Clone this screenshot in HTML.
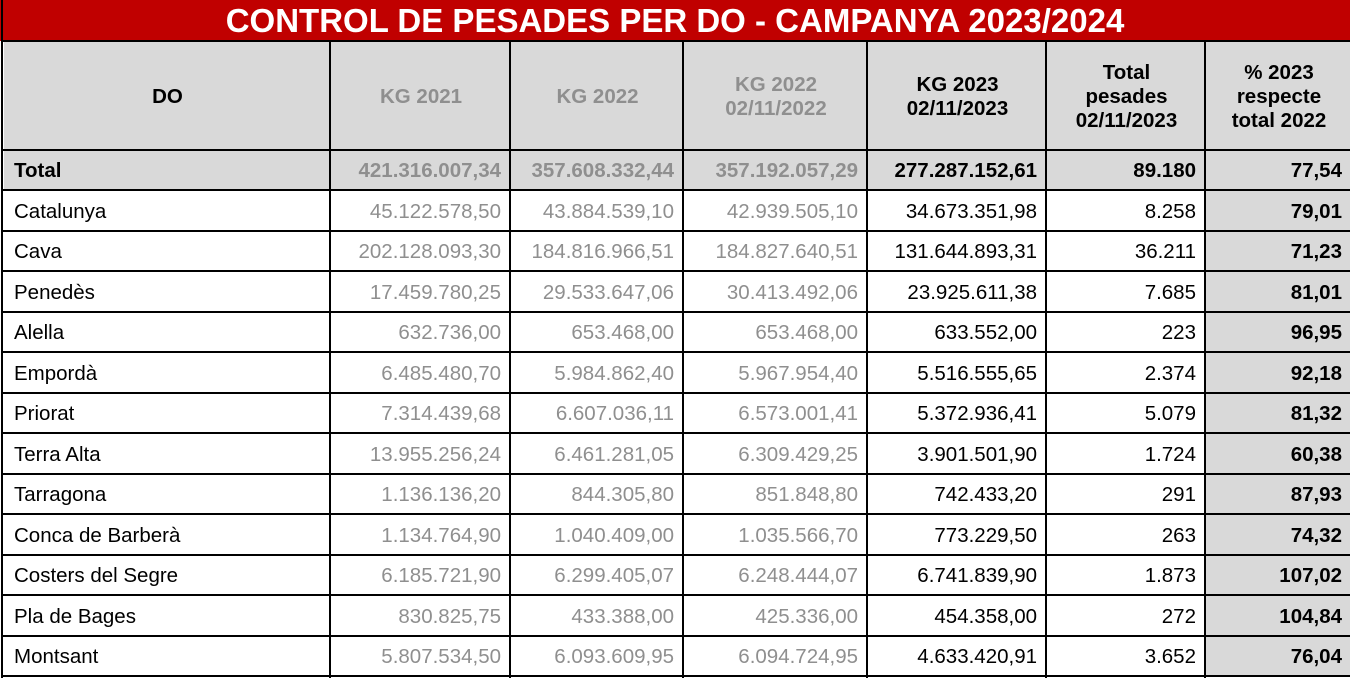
<!DOCTYPE html>
<html><head><meta charset="utf-8"><style>
body{margin:0;width:1350px;height:678px;overflow:hidden;background:#fff;font-family:"Liberation Sans",Arial,sans-serif;position:relative}
.t{position:absolute;left:0;top:0;width:1350px;height:41px;background:#c00000;color:#fff;font-weight:bold;font-size:33px;text-align:center;line-height:42px}
.c{position:absolute;box-sizing:border-box;font-size:20.5px;display:flex;align-items:center;padding:0 10px;white-space:nowrap}
.h{background:#d9d9d9;font-weight:bold;justify-content:center;text-align:center;line-height:24px}
.g{color:#8f8f8f}.r{justify-content:flex-end}.b{font-weight:bold}.gy{background:#d9d9d9}
.vl{position:absolute;width:2px;background:#000;top:0;height:678px}
.hl{position:absolute;height:2px;background:#000;left:3px;width:1347px}
</style></head><body>
<div class="t">CONTROL DE PESADES PER DO - CAMPANYA 2023/2024</div>
<div id="g"></div>
<script>
const xs=[4,331,511,684,868,1047,1206,1352];
const ys=[42,151,191];for(let i=1;i<=12;i++)ys.push(Math.round(191+i*40.5));
const hdr=['DO','KG 2021','KG 2022','KG 2022<br>02/11/2022','KG 2023<br>02/11/2023','Total<br>pesades<br>02/11/2023','% 2023<br>respecte<br>total 2022'];
const rows=[
['Total','421.316.007,34','357.608.332,44','357.192.057,29','277.287.152,61','89.180','77,54'],
['Catalunya','45.122.578,50','43.884.539,10','42.939.505,10','34.673.351,98','8.258','79,01'],
['Cava','202.128.093,30','184.816.966,51','184.827.640,51','131.644.893,31','36.211','71,23'],
['Penedès','17.459.780,25','29.533.647,06','30.413.492,06','23.925.611,38','7.685','81,01'],
['Alella','632.736,00','653.468,00','653.468,00','633.552,00','223','96,95'],
['Empordà','6.485.480,70','5.984.862,40','5.967.954,40','5.516.555,65','2.374','92,18'],
['Priorat','7.314.439,68','6.607.036,11','6.573.001,41','5.372.936,41','5.079','81,32'],
['Terra Alta','13.955.256,24','6.461.281,05','6.309.429,25','3.901.501,90','1.724','60,38'],
['Tarragona','1.136.136,20','844.305,80','851.848,80','742.433,20','291','87,93'],
['Conca de Barberà','1.134.764,90','1.040.409,00','1.035.566,70','773.229,50','263','74,32'],
['Costers del Segre','6.185.721,90','6.299.405,07','6.248.444,07','6.741.839,90','1.873','107,02'],
['Pla de Bages','830.825,75','433.388,00','425.336,00','454.358,00','272','104,84'],
['Montsant','5.807.534,50','6.093.609,95','6.094.724,95','4.633.420,91','3.652','76,04']];
let h='';
function cell(x0,x1,y0,y1,cls,txt){h+=`<div class="c ${cls}" style="left:${x0}px;top:${y0}px;width:${x1-x0}px;height:${y1-y0}px">${txt}</div>`;}
for(let j=0;j<7;j++)cell(xs[j],xs[j+1],ys[0],ys[1],'h'+(j>=1&&j<=3?' g':''),hdr[j]);
rows.forEach((r,i)=>{const y0=ys[i+1],y1=ys[i+2];const tot=i==0;
for(let j=0;j<7;j++){let cls='';
if(j>0)cls+=' r';if(j>=1&&j<=3)cls+=' g';if(tot||j==6)cls+=' b';if(tot||j==6)cls+=' gy';
cell(xs[j],xs[j+1],y0,y1,cls,r[j]);}});
xs.slice(0,7).forEach((x,k)=>{h+=`<div class="vl" style="left:${x-2+(k==0?-1:0)}px;top:${k==0?0:41}px;height:${k==0?678:637}px"></div>`});
ys.forEach(y=>{h+=`<div class="hl" style="top:${y-2}px"></div>`});
document.getElementById('g').innerHTML=h;
</script>
</body></html>
